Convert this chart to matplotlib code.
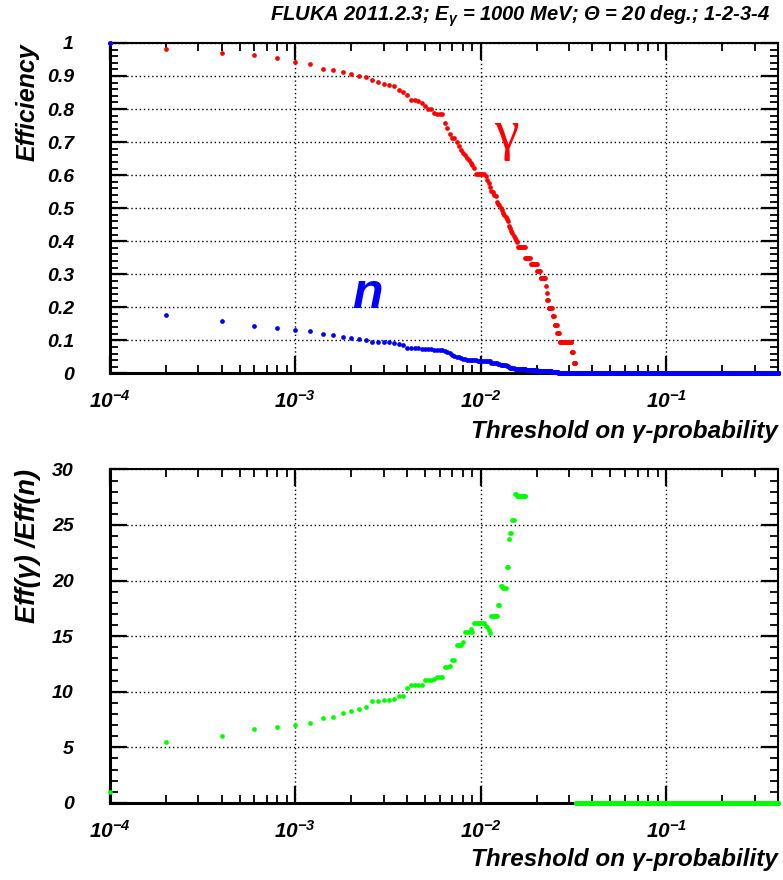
import numpy as np
import matplotlib
matplotlib.use('Agg')
import matplotlib.pyplot as plt
from matplotlib.ticker import FixedLocator, LogLocator, MultipleLocator, NullFormatter, FuncFormatter

plt.rcParams['font.family'] = ['Liberation Sans', 'DejaVu Sans']
plt.rcParams['font.weight'] = 'bold'
plt.rcParams['font.style'] = 'italic'
plt.rcParams['mathtext.fontset'] = 'custom'
plt.rcParams['mathtext.rm'] = 'Liberation Sans:bold:italic'
plt.rcParams['mathtext.it'] = 'Liberation Sans:bold:italic'
plt.rcParams['mathtext.bf'] = 'Liberation Sans:bold:italic'

# thresholds on gamma-probability: 2e-4 steps up to 0.4 (threshold 0 drawn at left edge)
thr_step = 2e-4
n_thr = 2000
x_min, x_max = 1e-4, 0.4

# efficiency for photons, thresholds k = 1..161 (zero afterwards)
eff_gamma = [0.983, 0.971, 0.964, 0.953, 0.941, 0.935, 0.922, 0.919, 0.911, 0.906,
             0.899, 0.897, 0.887, 0.883, 0.876, 0.874, 0.870, 0.857, 0.852, 0.841,
             0.826, 0.826, 0.825, 0.818, 0.810, 0.800, 0.800, 0.788, 0.785, 0.785,
             0.785, 0.758, 0.743, 0.725, 0.711, 0.711, 0.700, 0.689, 0.676, 0.668,
             0.661, 0.653, 0.645, 0.638, 0.630, 0.621, 0.604, 0.604, 0.604, 0.604,
             0.604, 0.604, 0.597, 0.584, 0.577, 0.565, 0.552, 0.548, 0.540, 0.537,
             0.520, 0.513, 0.510, 0.500, 0.495, 0.487, 0.480, 0.474, 0.467, 0.460,
             0.447, 0.440, 0.432, 0.425, 0.415, 0.410, 0.405, 0.399, 0.384, 0.384] \
    + [0.384] * 6 + [0.349] * 6 + [0.332] * 8 + [0.310] * 4 + [0.289] * 7 \
    + [0.266, 0.243] + [0.221] * 2 + [0.198] * 6 + [0.173] * 3 + [0.148] * 4 \
    + [0.121] * 4 + [0.096] * 22 + [0.064] * 3 + [0.033] * 4

# efficiency for neutrons, thresholds k = 1..145 (zero afterwards)
eff_n = [0.178, 0.159, 0.143, 0.138, 0.132, 0.128, 0.119, 0.117, 0.111, 0.107,
         0.103, 0.101, 0.096, 0.096, 0.095, 0.095, 0.091, 0.088, 0.085, 0.078,
         0.078, 0.078, 0.078, 0.074, 0.074, 0.074, 0.074, 0.072, 0.072, 0.072,
         0.072, 0.067, 0.064, 0.061, 0.057, 0.053, 0.051, 0.049, 0.047, 0.045,
         0.044, 0.042, 0.042, 0.042, 0.040, 0.040, 0.040] \
    + [0.0375] * 8 + [0.037] + [0.033] * 4 + [0.031] + [0.029] * 2 + [0.0255] * 5 \
    + [0.023, 0.0216, 0.019] + [0.018] * 3 + [0.0163] + [0.0141] * 12 + [0.011] * 13 \
    + [0.008] * 12 + [0.006] * 8 + [0.003] * 10 + [0.0015] * 15

# Eff(gamma)/Eff(n), visible for k = 1..87; above 30 (off scale) up to k = 161, then 0
ratio = [5.50, 6.02, 6.62, 6.80, 7.01, 7.18, 7.63, 7.72, 8.05, 8.26,
         8.47, 8.59, 9.13, 9.13, 9.25, 9.22, 9.37, 9.64, 9.64, 10.30,
         10.6, 10.6, 10.6, 10.6, 11.05, 11.05, 11.05, 11.14, 11.35, 11.35,
         11.35, 12.25, 12.25, 12.35, 12.85, 12.85, 14.2, 14.2, 14.2, 14.44,
         15.4, 15.4, 15.4, 15.6, 15.4, 16.15, 16.15, 16.15, 16.15, 16.15,
         16.15, 16.15, 15.95, 15.8, 15.55, 15.25, 16.8, 16.8, 16.8, 16.8,
         16.8, 17.8, 17.8, 19.5, 19.5, 19.3, 19.3, 19.3, 21.25, 21.25,
         23.7, 24.3, 24.3, 25.45, 25.45, 27.8, 27.8] + [27.6] * 10
ratio_offscale_until = 161

# threshold 0: everything accepted
eff_at_zero = 1.0
ratio_at_zero = 1.0

thr = thr_step * np.arange(1, n_thr + 1)
g = np.zeros(n_thr); g[:len(eff_gamma)] = eff_gamma
nn = np.zeros(n_thr); nn[:len(eff_n)] = eff_n
r = np.zeros(n_thr); r[len(ratio):ratio_offscale_until] = np.nan; r[:len(ratio)] = ratio

fig = plt.figure(figsize=(7.83, 8.8), dpi=100)
ax1 = fig.add_axes([0.1405, 0.5756, 0.853, 0.3756])
ax2 = fig.add_axes([0.1405, 0.0876, 0.853, 0.379])

mk = dict(marker='o', linestyle='none', markersize=3.4, markeredgewidth=0, clip_on=False, zorder=4)
ax1.plot(np.r_[x_min, thr], np.r_[eff_at_zero, g], color='#ff0000', **mk)
ax1.plot(np.r_[x_min, thr], np.r_[eff_at_zero, nn], color='#0000ff', **mk)
ax2.plot(np.r_[x_min, thr], np.r_[ratio_at_zero, r], color='#00ff00', **mk)


def style(ax, ymax, ymaj, ymin, xlab_y):
    ax.set_xscale('log')
    ax.set_xlim(x_min, x_max)
    ax.set_ylim(0, ymax)
    ax.xaxis.set_major_locator(FixedLocator([1e-4, 1e-3, 1e-2, 1e-1]))
    ax.xaxis.set_major_formatter(FuncFormatter(lambda v, p: r'$10^{%d}$' % round(np.log10(v))))
    ax.xaxis.set_minor_locator(LogLocator(base=10, subs=range(2, 10), numticks=20))
    ax.xaxis.set_minor_formatter(NullFormatter())
    ax.yaxis.set_major_locator(MultipleLocator(ymaj))
    ax.yaxis.set_minor_locator(MultipleLocator(ymin))
    ax.yaxis.set_major_formatter(FuncFormatter(lambda v, p: '%g' % round(v, 3)))
    ax.tick_params(which='both', direction='in', top=True, right=True)
    ax.tick_params(axis='y', labelsize=14)
    ax.tick_params(axis='x', labelsize=15)
    ax.tick_params(which='major', length=12, width=1.6)
    ax.tick_params(which='minor', length=6, width=1.3)
    ax.tick_params(axis='y', which='major', pad=26)
    ax.tick_params(axis='x', which='major', pad=12)
    ax.grid(True, which='major', color='black', linestyle=(0, (1, 2)), linewidth=1.0)
    ax.set_axisbelow(True)
    for side in ['left', 'bottom']:
        ax.spines[side].set_linewidth(2.2)
    for side in ['top', 'right']:
        ax.spines[side].set_linewidth(1.5)
    ax.text(1.0, xlab_y, 'Threshold on γ-probability', transform=ax.transAxes,
            ha='right', va='center', fontsize=17.5)


style(ax1, 1.0, 0.1, 0.02, -0.177)
style(ax2, 30, 5, 1, -0.171)

ax1.text(-0.123, 1.0, 'Efficiency', transform=ax1.transAxes, rotation=90,
         ha='center', va='top', fontsize=18)
ax2.text(-0.123, 1.0, 'Eff(γ) /Eff(n)', transform=ax2.transAxes, rotation=90,
         ha='center', va='top', fontsize=19.5)

ax1.text(0.594, 0.72, 'γ', transform=ax1.transAxes, color='#ff0000',
         family='Liberation Serif', style='normal', weight='normal',
         fontsize=40, ha='center', va='center')
ax1.text(0.386, 0.198, 'n', transform=ax1.transAxes, color='#0000ff',
         fontsize=36, ha='center', va='baseline')

fig.text(770 / 783, 1 - 16 / 880,
         r'FLUKA 2011.2.3; E$_{\gamma}$ = 1000 MeV; Θ = 20 deg.; 1-2-3-4',
         ha='right', va='center', fontsize=14.5)

fig.savefig('out.png', dpi=100)
